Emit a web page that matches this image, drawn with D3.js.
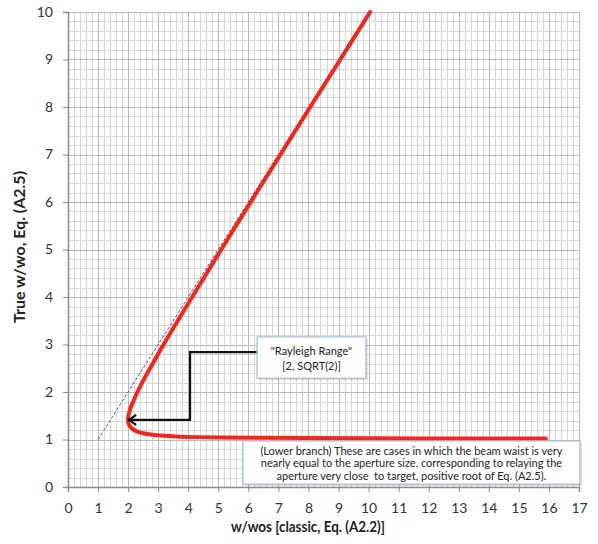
<!DOCTYPE html>
<html><head><meta charset="utf-8">
<script src="https://cdn.jsdelivr.net/npm/d3@7"></script>
<style>
html,body{margin:0;padding:0;background:#fff;}
svg{display:block;}
text{font-family:Lato,"Open Sans",sans-serif;}
</style></head>
<body><svg id="c" width="598" height="544"></svg>
<script>
// ---- data ----
const xTicks = [0,1,2,3,4,5,6,7,8,9,10,11,12,13,14,15,16,17];
const yTicks = [0,1,2,3,4,5,6,7,8,9,10];
// true w/wo curve (lower branch -> vertex -> upper branch)
const curveX = [15.9, 13.0, 10.0, 8.0, 6.5, 5.2, 4.3, 3.6, 3.1, 2.75, 2.5, 2.33, 2.2, 2.1, 2.04, 2.01, 2.0, 2.01, 2.05, 2.1, 2.17, 2.31, 2.51, 2.73, 3.18, 3.65, 4.13, 5.1, 6.08, 7.07, 8.06, 9.06, 10.05];
const curveY = [1.02, 1.022, 1.025, 1.03, 1.035, 1.042, 1.05, 1.065, 1.085, 1.105, 1.13, 1.16, 1.2, 1.25, 1.3, 1.35, 1.414, 1.5, 1.6, 1.7, 1.8, 2.0, 2.25, 2.5, 3.0, 3.5, 4.0, 5.0, 6.0, 7.0, 8.0, 9.0, 10.0];
// classic asymptote (dashed)
const guideX = [1, 10];
const guideY = [1, 10];
// Rayleigh range callout connector (box edge -> elbow -> vertex)
const calloutX = [6.29, 4.06, 4.06, 2.0];
const calloutY = [2.84, 2.84, 1.414, 1.414];
const rayleighLines = ['"Rayleigh Range"', '[2, SQRT(2)]'];
const branchLines = [
  '(Lower branch) These are cases in which the beam waist is very',
  'nearly equal to the aperture size, corresponding to relaying the',
  'aperture very close  to target, positive root of Eq. (A2.5).'
];
const xTitle = 'w/wos [classic, Eq. (A2.2)]';
const yTitle = 'True w/wo, Eq. (A2.5)';

// ---- layout ----
const svg = d3.select('#c');
const L = 68, R = 579, T = 12, B = 487;
const x = d3.scaleLinear().domain([0,17]).range([L,R]);
const y = d3.scaleLinear().domain([0,10]).range([B,T]);

// grid
const minorX = d3.range(0, 17.001, 0.2), minorY = d3.range(0, 10.001, 0.2);
const g = svg.append('g');
g.selectAll('.mx').data(minorX).join('line')
  .attr('x1', d=>Math.round(x(d))+0.5).attr('x2', d=>Math.round(x(d))+0.5)
  .attr('y1', T).attr('y2', B).attr('stroke', '#d8d8d8').attr('stroke-width', 1);
g.selectAll('.my').data(minorY).join('line')
  .attr('y1', d=>Math.round(y(d))+0.5).attr('y2', d=>Math.round(y(d))+0.5)
  .attr('x1', L).attr('x2', R).attr('stroke', '#d8d8d8').attr('stroke-width', 1);
g.selectAll('.Mx').data(xTicks).join('line')
  .attr('x1', d=>Math.round(x(d))+0.5).attr('x2', d=>Math.round(x(d))+0.5)
  .attr('y1', T).attr('y2', B).attr('stroke', '#b8b8b8').attr('stroke-width', 1);
g.selectAll('.My').data(yTicks).join('line')
  .attr('y1', d=>Math.round(y(d))+0.5).attr('y2', d=>Math.round(y(d))+0.5)
  .attr('x1', L).attr('x2', R).attr('stroke', '#b8b8b8').attr('stroke-width', 1);

// axes
const xAxis = svg.append('g').attr('transform', `translate(0,${B})`)
  .call(d3.axisBottom(x).tickValues(xTicks).tickSize(5).tickPadding(11).tickFormat(d3.format('d')));
const yAxis = svg.append('g').attr('transform', `translate(${L},0)`)
  .call(d3.axisLeft(y).tickValues(yTicks).tickSize(5).tickPadding(10).tickFormat(d3.format('d')));
[xAxis, yAxis].forEach(a => {
  a.select('.domain').attr('stroke', '#8a8a8a').attr('stroke-width', 1.5);
  a.selectAll('.tick line').attr('stroke', '#8a8a8a');
  a.selectAll('.tick text').attr('fill', '#333').style('font-size', '14px').style('font-family', 'Lato, sans-serif');
});

// dashed asymptote
svg.append('path')
  .attr('d', d3.line().x(i=>x(guideX[i])).y(i=>y(guideY[i]))(d3.range(guideX.length)))
  .attr('fill', 'none').attr('stroke', '#555').attr('stroke-width', 1).attr('stroke-dasharray', '3,2');

// red curve
svg.append('path')
  .attr('d', d3.line().curve(d3.curveCatmullRom.alpha(0.5))
    .x(i=>x(curveX[i])).y(i=>y(curveY[i]))(d3.range(curveX.length)))
  .attr('fill', 'none').attr('stroke', '#f2261c').attr('stroke-width', 4)
  .attr('stroke-linejoin', 'round').attr('stroke-linecap', 'round');

// callout connector
svg.append('path')
  .attr('d', d3.line().x(i=>x(calloutX[i])).y(i=>y(calloutY[i]))(d3.range(calloutX.length)))
  .attr('fill', 'none').attr('stroke', '#111').attr('stroke-width', 2.2);
const tipX = x(calloutX[calloutX.length-1]), tipY = y(calloutY[calloutY.length-1]);
svg.append('path')
  .attr('d', `M${tipX+8},${tipY-5}L${tipX+1},${tipY}L${tipX+8},${tipY+5}`)
  .attr('fill', 'none').attr('stroke', '#111').attr('stroke-width', 2.2);

// text boxes
function box(x0, x1, y0, y1, lines, fs, lh, firstY) {
  const bx = x(x0), bw = x(x1) - x(x0), by = y(y0), bh = y(y1) - y(y0);
  svg.append('rect').attr('x', bx+2).attr('y', by+2).attr('width', bw).attr('height', bh)
    .attr('fill', '#000').attr('opacity', 0.12);
  svg.append('rect').attr('x', bx).attr('y', by).attr('width', bw).attr('height', bh)
    .attr('fill', '#fff').attr('stroke', '#9dbbe2').attr('stroke-width', 1.2);
  const t = svg.append('text').attr('text-anchor', 'middle').attr('fill', '#222')
    .style('font-size', fs+'px').style('white-space', 'pre');
  lines.forEach((s, i) => t.append('tspan').attr('x', bx + bw/2).attr('y', by + firstY + i*lh).text(s));
}
box(6.29, 9.91, 3.16, 2.29, rayleighLines, 11, 15, 18);
box(5.82, 17.03, 0.97, 0.06, branchLines, 11, 12.5, 14);

// axis titles
svg.append('text').attr('x', 308).attr('y', 532).attr('text-anchor', 'middle')
  .attr('fill', '#222').style('font-size', '15px').style('font-weight', 'bold')
  .attr('textLength', 154).attr('lengthAdjust', 'spacingAndGlyphs').text(xTitle);
svg.append('text').attr('transform', 'translate(25,247) rotate(-90)').attr('text-anchor', 'middle')
  .attr('fill', '#222').style('font-size', '15px').style('font-weight', 'bold')
  .attr('textLength', 152).attr('lengthAdjust', 'spacingAndGlyphs').text(yTitle);
</script></body></html>
